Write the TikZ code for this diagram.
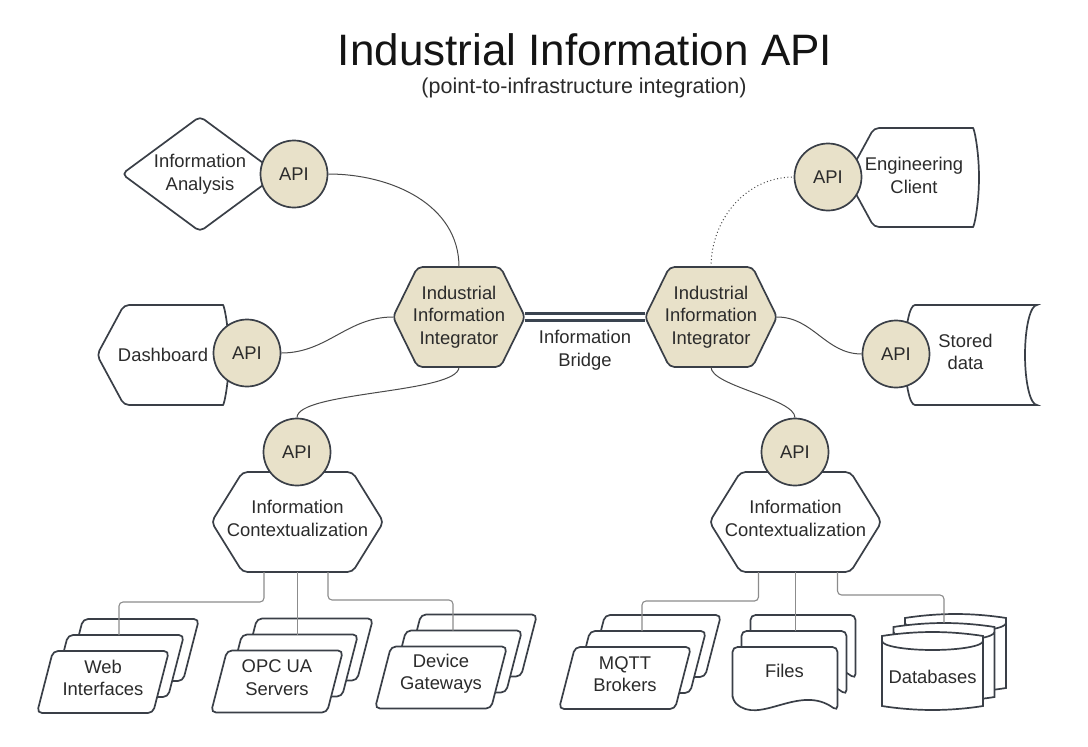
\documentclass[tikz,border=0pt]{standalone}
\usepackage{fontspec}
\setmainfont{Liberation Sans}
\usetikzlibrary{calc}
\pgfdeclarelayer{bg}
\pgfsetlayers{bg,main}
\definecolor{beige}{HTML}{E8E1C9}
\definecolor{edgec}{HTML}{3A3F47}
\definecolor{wirec}{HTML}{4A4A4A}
\definecolor{feedc}{HTML}{8C8C8C}
\definecolor{ink}{HTML}{2B2B2B}
\definecolor{bridgec}{HTML}{3A4450}
% hexagon drawn around an invisible node
\newcommand\hexa[3]{\draw[shp,fill=#3] (#1.west) -- ([xshift=#2]#1.north west) -- ([xshift=-#2]#1.north east) -- (#1.east) -- ([xshift=-#2]#1.south east) -- ([xshift=#2]#1.south west) -- cycle;}
% display shape: pointed left, arc right
\newcommand\dispshape[2]{\draw[shp,fill=white] (#1.west) -- ([xshift=27pt]#1.north west) -- ([xshift=-11pt]#1.north east) arc[start angle=90,end angle=-90,x radius=11pt,y radius=#2] -- ([xshift=27pt]#1.south west) -- cycle;}
% stack of three parallelograms
\newcommand\pstack[1]{\foreach \k in {2,1,0}{\draw[shp,fill=white] ($(#1)+({-50+15*\k},{-27-16*\k})$) -- ($(#1)+({66+15*\k},{-27-16*\k})$) -- ($(#1)+({50+15*\k},{35-16*\k})$) -- ($(#1)+({-66+15*\k},{35-16*\k})$) -- cycle;}}
% stack of three documents
\newcommand\dstack[1]{\foreach \k in {2,1,0}{\draw[shp,fill=white] ($(#1)+({-52+9*\k},{29-16*\k})$) -- ($(#1)+({-52+9*\k},{-24-16*\k})$) -- ($(#1)+({53+9*\k},{-24-16*\k})$) -- ($(#1)+({53+9*\k},{40-16*\k})$) .. controls ($(#1)+({15+9*\k},{12-16*\k})$) and ($(#1)+({-25+9*\k},{55-16*\k})$) .. ($(#1)+({-52+9*\k},{29-16*\k})$) -- cycle;}}
% stack of three cylinders
\newcommand\cstack[1]{\foreach \k in {2,1,0}{\draw[shp,fill=white] ($(#1)+({-50.5+11.5*\k},{-36-9*\k})$) -- ($(#1)+({-50.5+11.5*\k},{24-9*\k})$) arc[start angle=180,end angle=360,x radius=50.5pt,y radius=9pt] -- ($(#1)+({50.5+11.5*\k},{-36-9*\k})$) arc[start angle=0,end angle=180,x radius=50.5pt,y radius=9pt] -- cycle;
\draw[shp] ($(#1)+({-50.5+11.5*\k},{-36-9*\k})$) arc[start angle=180,end angle=360,x radius=50.5pt,y radius=9pt];}}
\begin{document}
\begin{tikzpicture}[x=1pt,y=-1pt,
 shp/.style={draw=edgec,line width=1.7pt,rounded corners=5pt},
 lbl/.style={inner sep=0pt,outer sep=0pt,align=center,text=ink,font=\fontsize{18.4}{22.5}\selectfont},
 api/.style={circle,draw=edgec,line width=1.7pt,fill=beige,minimum size=67pt,inner sep=0pt,text=ink,font=\fontsize{18.4}{22.5}\selectfont},
 wire/.style={draw=wirec,line width=1pt},
 feed/.style={draw=feedc,line width=1.1pt,rounded corners=4pt},
 bridge/.style={draw=bridgec,line width=2.8pt,double=white,double distance=3.6pt}]
\useasboundingbox (0,0) rectangle (1088,747);
% titles
\node[anchor=base,font=\fontsize{44}{50}\selectfont,text=black!92] (title) at (585,65) {Industrial Information API};
\node[anchor=base,font=\fontsize{21.5}{26}\selectfont,text=ink] (sub) at (584,93.5) {(point-to-infrastructure integration)};
% nodes
\node[lbl,minimum width=156pt,minimum height=115pt] (ana) at (200,174) {Information\\Analysis};
\node[api] (apiA) at (294,174) {API};
\node[lbl,minimum width=132pt,minimum height=100pt] (dash) at (163,355) {Dashboard};
\node[api] (apiD) at (247,353) {API};
\node[lbl,minimum width=132pt,minimum height=100pt] (intL) at (459,317) {Industrial\\Information\\Integrator};
\node[lbl,minimum width=132pt,minimum height=100pt] (intR) at (711,317) {Industrial\\Information\\Integrator};
\node[lbl] (bridgeL) at (585,350) {Information\\Bridge};
\node[lbl,minimum width=132pt,minimum height=99pt] (eng) at (913,177.5) {};
\node[lbl] (engt) at (914,175.5) {Engineering\\Client};
\node[api] (apiE) at (828,177) {API};
\node[lbl,minimum width=120pt,minimum height=100pt] (sto) at (965,355) {};
\node[lbl] (stot) at (965.5,352) {Stored\\data};
\node[api] (apiS) at (896,354) {API};
\node[lbl,minimum width=172pt,minimum height=100pt] (ctxL) at (297.5,522) {};
\node[lbl] (ctxLt) at (297.5,518.5) {Information\\Contextualization};
\node[api] (apiBL) at (297,452) {API};
\node[lbl,minimum width=172pt,minimum height=100pt] (ctxR) at (795.5,522) {};
\node[lbl] (ctxRt) at (795.5,518.5) {Information\\Contextualization};
\node[api] (apiBR) at (795,452) {API};
\node[lbl,minimum width=132pt,minimum height=62pt] (web) at (103,678) {Web\\Interfaces};
\node[lbl,minimum width=132pt,minimum height=62pt] (opc) at (277,677.5) {OPC UA\\Servers};
\node[lbl,minimum width=132pt,minimum height=62pt] (dev) at (441,673.5) {Device\\Gateways};
\node[lbl,minimum width=132pt,minimum height=62pt] (mqtt) at (625,674) {MQTT\\Brokers};
\node[lbl,minimum width=105pt,minimum height=48pt] (files) at (784.5,671) {Files};
\node[lbl,minimum width=101pt,minimum height=60pt] (db) at (932.5,677) {Databases};
% connector end points on the middle cards
\coordinate (webm) at ($(web)+(16,-43)$);
\coordinate (opcm) at ($(opc)+(20,-43)$);
\coordinate (devm) at ($(dev)+(12,-43)$);
\coordinate (mqttm) at ($(mqtt)+(17,-43)$);
\coordinate (filesm) at ($(files)+(11,-40)$);
\coordinate (dbm) at ($(db)+(11.5,-54)$);
% shapes on background
\begin{pgfonlayer}{bg}
\fill[white] (0,0) rectangle (1088,747);
\draw[shp,fill=white] (ana.west) -- (ana.north) -- (ana.east) -- (ana.south) -- cycle;
\dispshape{dash}{50pt}
\dispshape{eng}{49.5pt}
\draw[shp,sharp corners,fill=white] ([xshift=10pt]sto.north west) -- ([xshift=12pt]sto.north east) arc[start angle=90,end angle=270,x radius=12pt,y radius=50pt] -- ([xshift=10pt]sto.south west) arc[start angle=270,end angle=90,x radius=10pt,y radius=50pt] -- cycle;
\hexa{intL}{24.5pt}{beige}
\hexa{intR}{24.5pt}{beige}
\hexa{ctxL}{31pt}{white}
\hexa{ctxR}{31pt}{white}
\pstack{web}
\pstack{opc}
\pstack{dev}
\pstack{mqtt}
\dstack{files}
\cstack{db}
\end{pgfonlayer}
% bridge
\draw[bridge] (intL.east) -- (intR.west);
% connectors
\draw[wire] (apiA.east) to[out=0,in=90] (intL.north);
\draw[wire] (apiD.east) to[out=0,in=180] (intL.west);
\draw[wire] (intL.south) to[out=-90,in=90,looseness=0.4] (apiBL.north);
\draw[wire] (intR.south) to[out=-90,in=90,looseness=0.5] (apiBR.north);
\draw[wire] (intR.east) to[out=0,in=180] (apiS.west);
\draw[wire,dash pattern=on 1pt off 2.5pt] (intR.north) to[out=90,in=180] (apiE.west);
% feeds
\draw[feed] ([xshift=-33.5pt]ctxL.south) -- ++(0,30) -| (webm);
\draw[feed] (ctxL.south) -- (ctxL.south |- opcm);
\draw[feed] ([xshift=30.5pt]ctxL.south) -- ++(0,28) -| (devm);
\draw[feed] ([xshift=-37pt]ctxR.south) -- ++(0,29) -| (mqttm);
\draw[feed] (ctxR.south) -- (ctxR.south |- filesm);
\draw[feed] ([xshift=42pt]ctxR.south) -- ++(0,23) -| (dbm);
\end{tikzpicture}
\end{document}
